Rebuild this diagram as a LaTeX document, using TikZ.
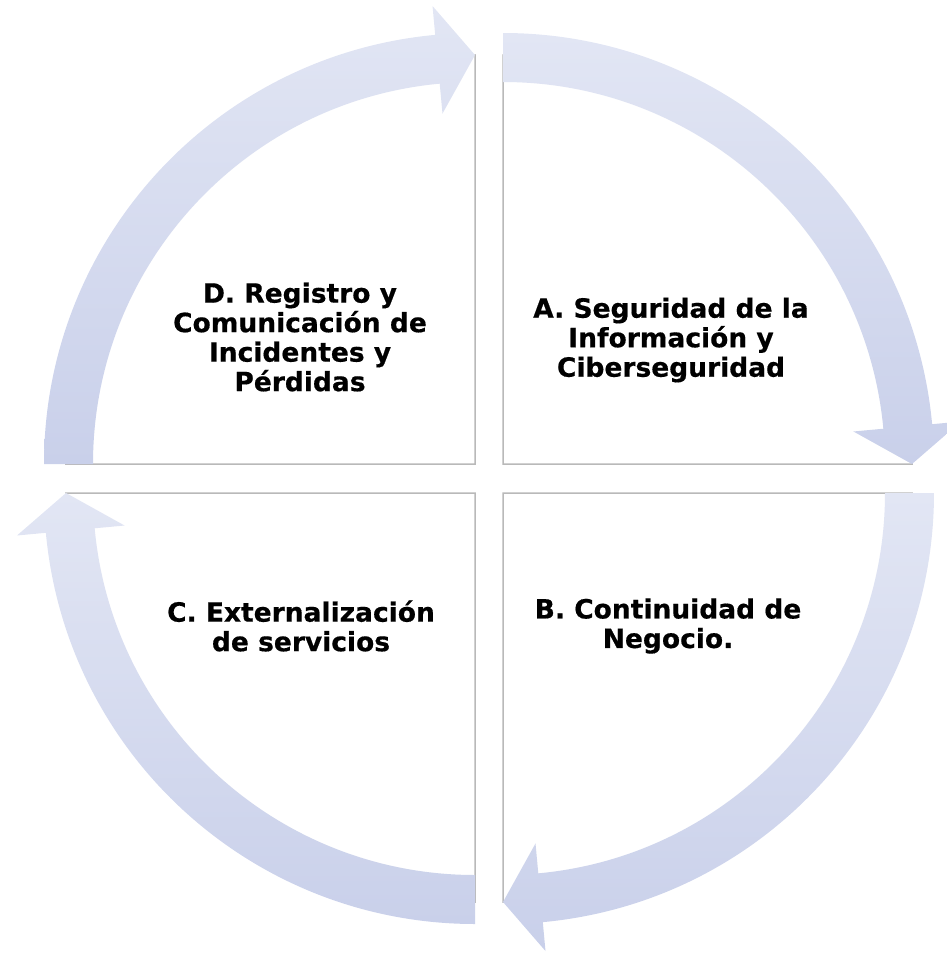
\documentclass[tikz,border=0pt]{standalone}
\usepackage{fontspec}
\setmainfont{DejaVu Sans}[BoldFeatures={FakeBold=0.5}]
\begin{document}
\begin{tikzpicture}[x=1pt,y=1pt]
\definecolor{arrowlight}{RGB}{226,230,244}
\definecolor{arrowdark}{RGB}{201,208,234}
\definecolor{panelline}{RGB}{185,185,185}
\tikzset{
  panel/.style={draw=panelline, line width=1.5pt, fill=white},
  cyclearrow/.style={top color=arrowlight, bottom color=arrowdark, draw=none},
  label/.style={align=center, font=\fontsize{26.5}{29.5}\selectfont\bfseries, text=black}
}
\useasboundingbox (0,0) rectangle (947,-954);
\clip (0,0) rectangle (947,-954);
% quarter panels
\coordinate (cA) at (503,-464);
\coordinate (cB) at (503,-493);
\coordinate (cC) at (475,-493);
\coordinate (cD) at (475,-464);
\draw[panel] (cA) -- ++(90:409) arc[start angle=90,end angle=0,radius=409] -- cycle;
\draw[panel] (cB) -- ++(0:409) arc[start angle=0,end angle=-90,radius=409] -- cycle;
\draw[panel] (cC) -- ++(-90:409) arc[start angle=-90,end angle=-180,radius=409] -- cycle;
\draw[panel] (cD) -- ++(180:409) arc[start angle=180,end angle=90,radius=409] -- cycle;
% arrows
\newcommand{\cyclearr}[3]{%
  \begin{scope}[shift={(#1)}]
    \shade[cyclearrow] (#2:431) arc[start angle=#2,end angle=#3+5.3,radius=431]
      -- (#3+5.3:460) -- (#3:409) -- (#3+5.3:352) -- (#3+5.3:382)
      arc[start angle=#3+5.3,end angle=#2,radius=382] -- cycle;
  \end{scope}}
\cyclearr{cA}{90}{0}
\cyclearr{cB}{0}{-90}
\cyclearr{cC}{-90}{-180}
\cyclearr{cD}{180}{90}
% labels
\node[label] (tA) at (671,-340) {A. Seguridad de la\\Información y\\Ciberseguridad};
\node[label] (tB) at (668,-626) {B. Continuidad de\\Negocio.};
\node[label] (tC) at (301,-626) {C. Externalización\\de servicios};
\node[label] (tD) at (300,-337) {D. Registro y\\Comunicación de\\Incidentes y\\Pérdidas};
\end{tikzpicture}
\end{document}
